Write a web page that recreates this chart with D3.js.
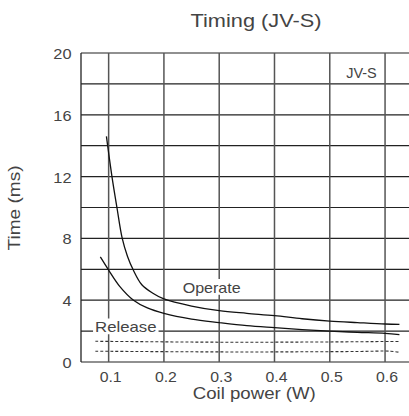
<!DOCTYPE html>
<html>
<head>
<meta charset="utf-8">
<script src="https://cdn.jsdelivr.net/npm/d3@7"></script>
<style>
  html, body { margin: 0; padding: 0; background: #fff; }
  svg { display: block; }
  text { font-family: "Liberation Sans", Arial, Helvetica, sans-serif; fill: #444; }
</style>
</head>
<body>
<svg id="chart" width="409" height="416"></svg>
<script>
// ---- data ----
const xTicks = [0.1, 0.2, 0.3, 0.4, 0.5, 0.6];
const yTicks = [0, 4, 8, 12, 16, 20];
const yGrid = [0, 2, 4, 6, 8, 10, 12, 14, 16, 18, 20];

const operatePower = [0.096, 0.106, 0.115, 0.1246, 0.134, 0.1446, 0.16, 0.18, 0.2, 0.25, 0.3, 0.35, 0.4, 0.45, 0.5, 0.55, 0.6, 0.626];
const operateTime  = [14.6, 12.0, 10.0, 8.0, 6.85, 5.95, 5.0, 4.45, 4.08, 3.62, 3.32, 3.15, 3.0, 2.8, 2.65, 2.55, 2.46, 2.44];

const releasePower = [0.085, 0.1, 0.12, 0.145, 0.17, 0.2, 0.25, 0.3, 0.35, 0.4, 0.45, 0.5, 0.55, 0.6, 0.626];
const releaseTime  = [6.8, 5.95, 4.9, 4.0, 3.5, 3.15, 2.78, 2.55, 2.35, 2.22, 2.1, 2.0, 1.92, 1.85, 1.77];

const dashPower   = [0.076, 0.15, 0.25, 0.35, 0.45, 0.55, 0.61, 0.627];
const dashUpper   = [1.34, 1.32, 1.29, 1.28, 1.29, 1.31, 1.33, 1.33];
const dashLower   = [0.70, 0.68, 0.66, 0.65, 0.66, 0.68, 0.70, 0.62];

const titleText = "Timing (JV-S)";
const xLabel = "Coil power (W)";
const yLabel = "Time (ms)";

// ---- layout ----
const svg = d3.select("#chart");
const x = d3.scaleLinear().domain([0.05, 0.65]).range([81, 412.7]);
const y = d3.scaleLinear().domain([0, 20]).range([362, 53]);

// horizontal grid
svg.append("g").selectAll("line").data(yGrid).join("line")
  .attr("x1", x(0.05)).attr("x2", 409)
  .attr("y1", d => y(d)).attr("y2", d => y(d))
  .attr("stroke", "#222").attr("stroke-width", 1.2);

// vertical grid
svg.append("g").selectAll("line").data(xTicks).join("line")
  .attr("x1", d => x(d)).attr("x2", d => x(d))
  .attr("y1", y(20)).attr("y2", y(0))
  .attr("stroke", "#555").attr("stroke-width", 1.5);

// left axis line
svg.append("line").attr("x1", x(0.05)).attr("x2", x(0.05))
  .attr("y1", y(20)).attr("y2", y(0))
  .attr("stroke", "#222").attr("stroke-width", 1.3);

// dashed lines
const smooth = d3.line().x(d => x(d[0])).y(d => y(d[1])).curve(d3.curveCatmullRom.alpha(0.5));
[dashUpper, dashLower].forEach(arr => {
  svg.append("path").datum(dashPower.map((p, i) => [p, arr[i]]))
    .attr("d", smooth).attr("fill", "none")
    .attr("stroke", "#333").attr("stroke-width", 1.1)
    .attr("stroke-dasharray", "3,2");
});

// curves
svg.append("path").datum(operatePower.map((p, i) => [p, operateTime[i]]))
  .attr("d", smooth).attr("fill", "none").attr("stroke", "#111").attr("stroke-width", 1.3);
svg.append("path").datum(releasePower.map((p, i) => [p, releaseTime[i]]))
  .attr("d", smooth).attr("fill", "none").attr("stroke", "#111").attr("stroke-width", 1.3);

// labels with white background
function boxedLabel(txt, cx, baseline, w, fs) {
  svg.append("rect").attr("x", cx - w / 2 - 2).attr("y", baseline - fs * 0.9)
    .attr("width", w + 4).attr("height", fs * 1.05).attr("fill", "#fff");
  svg.append("text").attr("x", cx).attr("y", baseline)
    .attr("text-anchor", "middle").attr("font-size", fs)
    .attr("textLength", w).attr("lengthAdjust", "spacingAndGlyphs").text(txt);
}
boxedLabel("Operate", 211.7, 292.5, 58, 15);
boxedLabel("Release", 125.8, 332, 61.5, 15);

svg.append("text").attr("x", 376.7).attr("y", 77.5).attr("text-anchor", "end")
  .attr("font-size", 14).attr("textLength", 30.5).attr("lengthAdjust", "spacingAndGlyphs").text("JV-S");

// y tick labels
svg.append("g").selectAll("text").data(yTicks).join("text")
  .attr("x", 71.5).attr("y", d => y(d) + 6).attr("text-anchor", "end")
  .attr("font-size", 15).attr("textLength", d => String(d).length * 9.1)
  .attr("lengthAdjust", "spacingAndGlyphs").text(d => d);

// x tick labels
svg.append("g").selectAll("text").data(xTicks).join("text")
  .attr("x", d => x(d) + 2).attr("y", 381.5).attr("text-anchor", "middle")
  .attr("font-size", 15).attr("textLength", 22)
  .attr("lengthAdjust", "spacingAndGlyphs").text(d => d3.format(".1f")(d));

// titles
svg.append("text").attr("x", 256).attr("y", 27).attr("text-anchor", "middle")
  .attr("font-size", 19).attr("textLength", 131).attr("lengthAdjust", "spacingAndGlyphs").text(titleText);
svg.append("text").attr("x", 254.3).attr("y", 398.5).attr("text-anchor", "middle")
  .attr("font-size", 16).attr("textLength", 123).attr("lengthAdjust", "spacingAndGlyphs").text(xLabel);
svg.append("text").attr("transform", "translate(20,208) rotate(-90)").attr("text-anchor", "middle")
  .attr("font-size", 16).attr("textLength", 85).attr("lengthAdjust", "spacingAndGlyphs").text(yLabel);
</script>
</body>
</html>
